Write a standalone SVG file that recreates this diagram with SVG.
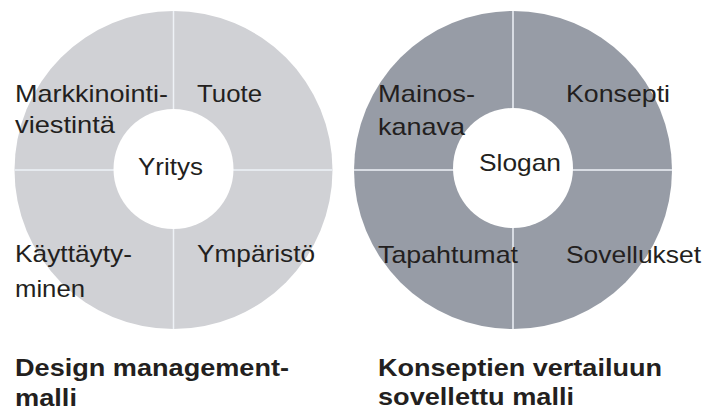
<svg xmlns="http://www.w3.org/2000/svg" width="706" height="412" viewBox="0 0 706 412">
  <style>
    .lbl { font-family: "Liberation Sans", Arial, sans-serif; font-size: 24px; fill: #231f20; }
    .ttl { font-family: "Liberation Sans", Arial, sans-serif; font-size: 24px; font-weight: bold; fill: #231f20; }
    .sep { stroke: #eef2f7; stroke-width: 1.5; fill: none; }
    .hole { fill: #ffffff; }
  </style>
  <rect width="706" height="412" fill="#ffffff"/>

  <!-- Left ring: Design management model -->
  <g id="ring-design-management">
    <circle cx="173.5" cy="170" r="159" fill="#d0d1d5"/>
    <g id="ring-left-dividers">
      <line class="sep" x1="173.5" y1="11" x2="173.5" y2="329"/>
      <line class="sep" x1="14.5" y1="170" x2="332.5" y2="170"/>
    </g>
    <circle class="hole" cx="173.5" cy="169" r="60"/>
  </g>
  <g id="node-yritys"><text class="lbl" x="138" y="175" textLength="65" lengthAdjust="spacingAndGlyphs">Yritys</text></g>
  <g id="node-markkinointiviestinta">
    <text class="lbl" x="15" y="102" textLength="153" lengthAdjust="spacingAndGlyphs">Markkinointi-</text>
    <text class="lbl" x="15" y="133" textLength="100" lengthAdjust="spacingAndGlyphs">viestintä</text>
  </g>
  <g id="node-tuote"><text class="lbl" x="197" y="102" textLength="65" lengthAdjust="spacingAndGlyphs">Tuote</text></g>
  <g id="node-kayttaytyminen">
    <text class="lbl" x="15" y="262" textLength="117" lengthAdjust="spacingAndGlyphs">Käyttäyty-</text>
    <text class="lbl" x="15" y="297" textLength="70" lengthAdjust="spacingAndGlyphs">minen</text>
  </g>
  <g id="node-ymparisto"><text class="lbl" x="197" y="262" textLength="118" lengthAdjust="spacingAndGlyphs">Ympäristö</text></g>

  <!-- Right ring: concept comparison model -->
  <g id="ring-concept-comparison">
    <circle cx="513" cy="170" r="159" fill="#979ca6"/>
    <g id="ring-right-dividers">
      <line class="sep" x1="513" y1="11" x2="513" y2="329"/>
      <line class="sep" x1="354" y1="170" x2="672" y2="170"/>
    </g>
    <circle class="hole" cx="513" cy="168" r="60"/>
  </g>
  <g id="node-slogan"><text class="lbl" x="479" y="171" textLength="82" lengthAdjust="spacingAndGlyphs">Slogan</text></g>
  <g id="node-mainoskanava">
    <text class="lbl" x="378" y="102" textLength="97" lengthAdjust="spacingAndGlyphs">Mainos-</text>
    <text class="lbl" x="378" y="135" textLength="87" lengthAdjust="spacingAndGlyphs">kanava</text>
  </g>
  <g id="node-konsepti"><text class="lbl" x="566" y="102" textLength="104" lengthAdjust="spacingAndGlyphs">Konsepti</text></g>
  <g id="node-tapahtumat"><text class="lbl" x="378" y="263" textLength="140" lengthAdjust="spacingAndGlyphs">Tapahtumat</text></g>
  <g id="node-sovellukset"><text class="lbl" x="566" y="263" textLength="135" lengthAdjust="spacingAndGlyphs">Sovellukset</text></g>

  <!-- Captions -->
  <g id="caption-left">
    <text class="ttl" x="15" y="376" textLength="274" lengthAdjust="spacingAndGlyphs">Design management-</text>
    <text class="ttl" x="15" y="406" textLength="62" lengthAdjust="spacingAndGlyphs">malli</text>
  </g>
  <g id="caption-right">
    <text class="ttl" x="378" y="376" textLength="284" lengthAdjust="spacingAndGlyphs">Konseptien vertailuun</text>
    <text class="ttl" x="378" y="405" textLength="196" lengthAdjust="spacingAndGlyphs">sovellettu malli</text>
  </g>

  <g id="connectors"></g>
</svg>
